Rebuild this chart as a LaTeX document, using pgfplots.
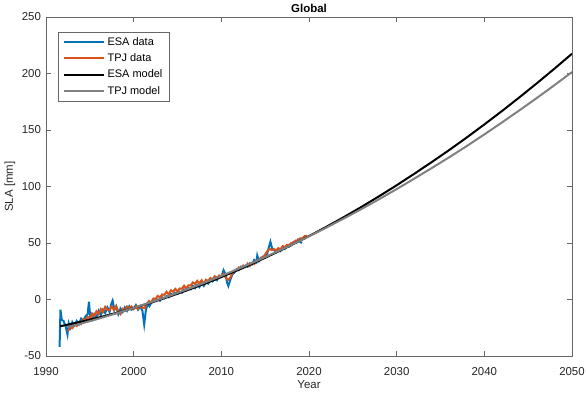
\documentclass[border=0pt]{standalone}
\usepackage{fontspec}
\setmainfont{Liberation Sans}
\usepackage{pgfplots}
\pgfplotsset{compat=1.18}
\definecolor{mblue}{RGB}{0,114,189}
\definecolor{morange}{RGB}{217,83,25}
\definecolor{mgrey}{RGB}{128,128,128}
\definecolor{axgrey}{RGB}{38,38,38}
\begin{document}
\begin{tikzpicture}[x=1bp,y=1bp]
\useasboundingbox (-46bp,-42bp) rectangle (540bp,356bp);
\begin{axis}[
  at={(0bp,0bp)}, anchor=south west,
  scale only axis,
  width=526bp, height=339bp,
  xmin=1990, xmax=2050, ymin=-50, ymax=250,
  xtick={1990,2000,...,2050}, ytick={-50,0,...,250},
  /pgf/number format/assume math mode=true,
  /pgf/number format/set thousands separator={},
  tick label style={font=\fontsize{11.5}{13}\selectfont, text=axgrey},
  xticklabel style={anchor=base, yshift=-19.5bp},
  yticklabel style={anchor=east, xshift=-1.6bp},
  label style={font=\fontsize{11.5}{13}\selectfont, text=axgrey},
  title style={font=\fontsize{11.5}{13}\selectfont\bfseries, yshift=-5bp},
  title={Global},
  xlabel={Year}, ylabel={SLA [mm]},
  xlabel style={at={(axis description cs:0.5,0)}, anchor=center, yshift=-29bp},
  ylabel style={at={(axis description cs:0,0.5)}, anchor=center, yshift=36bp},
  tick align=inside, major tick length=5bp,
  axis line style={color=axgrey!70, line width=0.6bp},
  every tick/.style={color=axgrey!70, line width=0.6bp},
  legend style={at={(0.023,0.956)}, anchor=north west, font=\fontsize{11}{13}\selectfont, draw=axgrey!70, line width=0.6bp, inner xsep=5bp, inner ysep=3bp, row sep=3bp, text=black},
  legend cell align=left,
  legend image code/.code={\draw[#1,line width=2.2bp] (0bp,0bp) -- (40bp,0bp);},
]
\addplot[mblue, line width=2bp] coordinates {
(1991.55,-42)(1991.65,-9)(1991.8,-18)(1992.0,-19)(1992.25,-24)(1992.45,-31)(1992.6,-21)
(1992.8,-25)(1993.0,-20)(1993.25,-23)(1993.5,-19)(1993.75,-22)(1994.0,-17)(1994.25,-20)
(1994.5,-15)(1994.75,-13)(1994.9,-2)(1995.05,-16)(1995.25,-18)(1995.5,-13)(1995.75,-16)
(1996.0,-10)(1996.25,-14)(1996.5,-9)(1996.75,-12)(1997.0,-7)(1997.25,-11)(1997.45,-4)
(1997.6,-1)(1997.8,-9)(1998.0,-6)(1998.25,-13)(1998.5,-8)(1998.75,-11)(1999.0,-7)
(1999.25,-10)(1999.5,-6)(1999.75,-9)(2000.0,-8)(2000.25,-5)(2000.5,-9)(2000.75,-6)
(2001.0,-10)(2001.2,-22)(2001.4,-9)(2001.6,-4)(2001.8,-6)(2002.0,-3)(2002.25,-2)
(2002.5,-1)(2002.75,0)(2003.0,-1)(2003.25,2)(2003.5,1)(2003.75,3)(2004.0,2)
(2004.25,5)(2004.5,4)(2004.75,6)(2005.0,5)(2005.25,7)(2005.5,6)(2005.75,9)
(2006.0,8)(2006.25,10)(2006.5,9)(2006.75,12)(2007.0,10)(2007.25,13)(2007.5,11)
(2007.75,15)(2008.0,12)(2008.25,15)(2008.5,14)(2008.75,17)(2009.0,16)(2009.25,18)
(2009.5,17)(2009.75,21)(2010.0,20)(2010.25,26)(2010.5,22)(2010.65,15)(2010.8,12)
(2011.0,17)(2011.25,22)(2011.5,24)(2011.75,27)(2012.0,26)(2012.25,29)(2012.5,28)
(2012.75,30)(2013.0,29)(2013.25,32)(2013.5,31)(2013.75,35)(2014.0,33)(2014.1,39)
(2014.3,34)(2014.5,36)(2014.75,38)(2015.0,37)(2015.25,41)(2015.45,47)(2015.6,51)
(2015.8,45)(2016.0,44)(2016.25,42)(2016.5,45)(2016.75,43)(2017.0,46)(2017.25,45)
(2017.5,48)(2017.75,47)(2018.0,49)(2018.25,51)(2018.5,50)(2018.75,53)(2019.0,51)
(2019.2,50)
};
\addlegendentry{ESA data}
\addplot[morange, line width=2bp] coordinates {
(1992.50,-28.2)(1992.75,-24.8)(1993.00,-25.4)(1993.25,-22.0)(1993.50,-23.5)(1993.75,-20.1)
(1994.00,-21.7)(1994.25,-17.2)(1994.50,-18.8)(1994.75,-15.3)(1995.00,-16.9)(1995.25,-12.4)
(1995.50,-14.9)(1995.75,-10.5)(1996.00,-13.0)(1996.25,-8.5)(1996.50,-11.0)(1996.75,-6.5)
(1997.00,-9.0)(1997.25,-9.5)(1997.50,-6.0)(1997.75,-9.4)(1998.00,-5.9)(1998.25,-10.4)
(1998.50,-12.9)(1998.75,-8.3)(1999.00,-9.8)(1999.25,-6.2)(1999.50,-7.7)(1999.75,-6.1)
(2000.00,-8.5)(2000.25,-5.9)(2000.50,-8.4)(2000.75,-5.8)(2001.00,-7.2)(2001.25,-7.6)
(2001.50,-4.0)(2001.75,-1.3)(2002.00,-2.7)(2002.25,0.9)(2002.50,0.5)(2002.75,3.2)
(2003.00,1.8)(2003.25,4.5)(2003.50,4.1)(2003.75,6.8)(2004.00,4.4)(2004.25,8.1)
(2004.50,6.8)(2004.75,9.4)(2005.00,7.1)(2005.25,9.8)(2005.50,9.5)(2005.75,12.2)
(2006.00,9.9)(2006.25,12.6)(2006.50,12.3)(2006.75,15.1)(2007.00,13.8)(2007.25,16.5)
(2007.50,14.2)(2007.75,17.0)(2008.00,13.7)(2008.25,17.5)(2008.50,16.3)(2008.75,19.0)
(2009.00,17.8)(2009.25,20.6)(2009.50,19.3)(2009.75,21.1)(2010.00,20.9)(2010.25,22.7)
(2010.50,19.5)(2010.75,17.3)(2011.00,19.1)(2011.25,22.9)(2011.50,25.7)(2011.75,25.6)
(2012.00,28.4)(2012.25,27.3)(2012.50,30.1)(2012.75,29.0)(2013.00,31.8)(2013.25,29.7)
(2013.50,32.5)(2013.75,31.4)(2014.00,34.3)(2014.25,34.2)(2014.50,37.1)(2014.75,37.0)
(2015.00,39.9)(2015.25,42.8)(2015.50,44.7)(2015.75,43.7)(2016.00,44.6)(2016.25,43.5)
(2016.50,45.4)(2016.75,44.4)(2017.00,47.3)(2017.25,46.3)(2017.50,48.3)(2017.75,48.2)
(2018.00,50.2)(2018.25,50.2)(2018.50,52.2)(2018.75,52.1)(2019.00,54.1)(2019.25,54.1)
(2019.50,56.1)(2019.80,56.3)
};
\addlegendentry{TPJ data}
\addplot[black, line width=2bp] coordinates {
(1991.6,-23.7)(1994,-19.7)(1996,-16.0)(1998,-11.9)(2000,-7.5)(2002,-2.7)(2004,2.4)
(2006,7.9)(2008,13.7)(2010,19.9)(2012,26.4)(2014,33.3)(2016,40.6)(2018,48.2)
(2020,56.1)(2022,64.4)(2024,73.0)(2026,82.0)(2028,91.4)(2030,101.1)(2032,111.2)
(2034,121.6)(2036,132.3)(2038,143.4)(2040,154.9)(2042,166.7)(2044,178.9)(2046,191.4)
(2048,204.3)(2050,217.5)
};
\addlegendentry{ESA model}
\addplot[mgrey, line width=2bp] coordinates {
(1992.5,-24.4)(1994,-21.3)(1996,-17.0)(1998,-12.3)(2000,-7.5)(2002,-2.3)(2004,3.0)
(2006,8.7)(2008,14.6)(2010,20.9)(2012,27.3)(2014,34.0)(2016,41.1)(2018,48.4)
(2020,55.9)(2022,63.7)(2024,71.8)(2026,80.1)(2028,88.8)(2030,97.7)(2032,106.9)
(2034,116.3)(2036,125.9)(2038,135.8)(2040,146.1)(2042,156.6)(2044,167.4)(2046,178.4)
(2048,189.7)(2050,201.3)
};
\addlegendentry{TPJ model}
\end{axis}
\end{tikzpicture}
\end{document}
